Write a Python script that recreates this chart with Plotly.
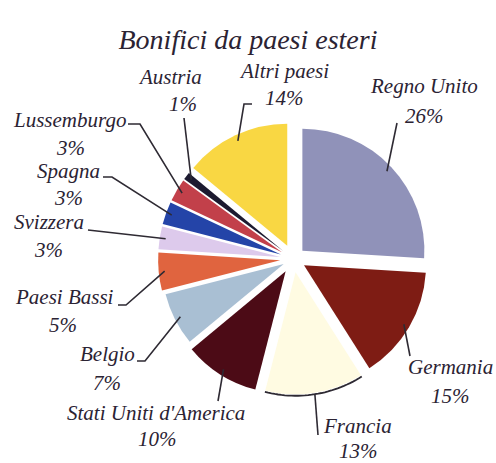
import math
import plotly.graph_objects as go

# ---- data ----
labels = ["Regno Unito", "Germania", "Francia", "Stati Uniti d'America", "Belgio",
          "Paesi Bassi", "Svizzera", "Spagna", "Lussemburgo", "Austria", "Altri paesi"]
values = [26, 15, 13, 10, 7, 5, 3, 3, 3, 1, 14]
title_text = "Bonifici da paesi esteri"

# ---- style / layout ----
colors = ["#9092b9", "#7e1c14", "#fffbe2", "#4c0b16", "#a9bfd3",
          "#e0643f", "#ddcaec", "#2444a8", "#c2404a", "#1c1a30", "#f9d743"]
pulls = [0.10, 0.10, 0.11, 0.12, 0.09, 0.11, 0.11, 0.11, 0.11, 0.11, 0.12]

W, H = 496, 463
CX, CY, R = 293.5, 259.0, 122.0          # pie centre / radius in pixels
maxpull = max(pulls)
RT = R * (1 + maxpull)

def px(x, y):
    return x / W, 1 - y / H

# label placement (pixel centres of name / percentage lines, leader start + knee)
label_pos = {
    "Regno Unito": ((424, 86), (424, 116), [(397, 123)]),
    "Germania": ((450, 367), (450, 396), [(410, 356)]),
    "Francia": ((357, 426), (358, 451), [(318, 435)]),
    "Stati Uniti d'America": ((156, 413), (157, 439), [(218, 401)]),
    "Belgio": ((107, 354), (107, 383), [(137, 361), (145, 361)]),
    "Paesi Bassi": ((64, 297), (63, 325), [(118, 305), (126, 305)]),
    "Svizzera": ((49, 222), (48, 250), [(88, 230)]),
    "Spagna": ((68, 171), (68, 198), [(103, 177), (112, 177)]),
    "Lussemburgo": ((69, 120), (70, 148), [(128, 124), (140, 124)]),
    "Austria": ((170, 77), (183, 104), [(184, 118)]),
    "Altri paesi": ((284, 71), (284, 98), [(252, 104), (244, 104)]),
}

font_family = "Liberation Serif"
txt_col = "#2b2333"
line_col = "#2e2a33"
fs = 21

fig = go.Figure()
fig.add_trace(go.Pie(
    labels=labels, values=values, sort=False, direction="clockwise", rotation=0,
    marker=dict(colors=colors, line=dict(width=0)), pull=pulls,
    textinfo="none", hoverinfo="label+percent", showlegend=False,
    domain=dict(x=[(CX - RT) / W, (CX + RT) / W],
                y=[1 - (CY + RT) / H, 1 - (CY - RT) / H]),
))

total = sum(values)
annotations = []
shapes = []
cum = 0.0
for lab, v, p in zip(labels, values, pulls):
    a0 = cum / total * 360
    a1 = (cum + v) / total * 360
    cum += v
    mid = math.radians((a0 + a1) / 2)
    # slice centre after pull
    sx = CX + p * R * math.sin(mid)
    sy = CY - p * R * math.cos(mid)
    name_xy, pct_xy, knees = label_pos[lab]
    annotations.append(dict(x=px(*name_xy)[0], y=px(*name_xy)[1], xref="paper", yref="paper",
                            text=lab, showarrow=False, xanchor="center", yanchor="middle",
                            font=dict(family=font_family, size=fs, color=txt_col, style="italic")))
    annotations.append(dict(x=px(*pct_xy)[0], y=px(*pct_xy)[1], xref="paper", yref="paper",
                            text=f"{v}%", showarrow=False, xanchor="center", yanchor="middle",
                            font=dict(family=font_family, size=fs, color=txt_col, style="italic")))
    # leader end: inside slice near outer edge at mid angle
    ex = sx + (R - 6) * math.sin(mid)
    ey = sy - (R - 6) * math.cos(mid)
    if lab == "Francia":
        ex = sx + (R + 1) * math.sin(mid)
        ey = sy - (R + 1) * math.cos(mid)
        # arc along the outer edge of the pale slice
        pts = []
        n = 30
        for i in range(n + 1):
            a = math.radians(a0 + (a1 - a0) * i / n)
            pts.append(px(sx + (R + 1.5) * math.sin(a), sy - (R + 1.5) * math.cos(a)))
        path = "M " + " L ".join(f"{x:.5f},{y:.5f}" for x, y in pts)
        shapes.append(dict(type="path", path=path, xref="paper", yref="paper",
                           line=dict(color=line_col, width=1.8)))
    pts = [px(*k) for k in knees] + [px(ex, ey)]
    path = "M " + " L ".join(f"{x:.5f},{y:.5f}" for x, y in pts)
    shapes.append(dict(type="path", path=path, xref="paper", yref="paper",
                       line=dict(color=line_col, width=1.6)))

fig.update_layout(
    width=W, height=H, margin=dict(l=0, r=0, t=0, b=0),
    paper_bgcolor="white", plot_bgcolor="white",
    title=dict(text=title_text, x=0.5, xanchor="center", y=1 - 39 / H, yanchor="middle",
               yref="container",
               font=dict(family=font_family, size=28, color=txt_col, style="italic")),
    annotations=annotations, shapes=shapes,
)
fig.write_html("out.html", config={"displayModeBar": False},
               post_script="document.body.style.margin='0px';document.documentElement.style.overflow='hidden';")
